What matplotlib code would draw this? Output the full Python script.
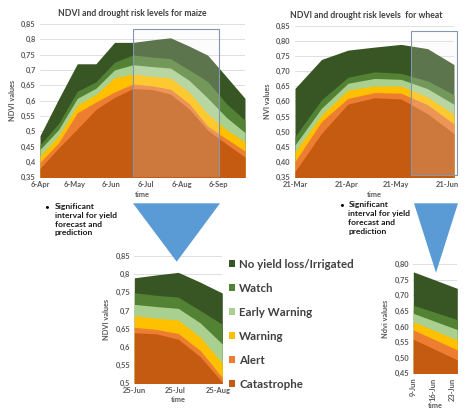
import numpy as np
import pandas as pd
import matplotlib
matplotlib.use("Agg")
import matplotlib.pyplot as plt
from matplotlib.patches import Patch, Rectangle, Polygon

plt.rcParams["font.family"] = ["Lato", "DejaVu Sans"]

# ---- data (16-day NDVI composites, upper bound of each risk level) ----
series_names = ["No yield loss/Irrigated", "Watch", "Early Warning",
                "Warning", "Alert", "Catastrophe"]
series_colors = ["#375623", "#548235", "#A9D08E", "#FFC000", "#ED7D31", "#C55A11"]

maize_dates = ["2016-04-06", "2016-04-22", "2016-05-08", "2016-05-24",
               "2016-06-09", "2016-06-25", "2016-07-11", "2016-07-27",
               "2016-08-12", "2016-08-28", "2016-09-13", "2016-09-29"]
maize_nyl = [0.485, 0.605, 0.720, 0.720, 0.790, 0.790, 0.798, 0.805, 0.778, 0.748, 0.678, 0.607]
maize_watch = [0.455, 0.525, 0.630, 0.661, 0.725, 0.749, 0.742, 0.737, 0.700, 0.662, 0.590, 0.535]
maize_early = [0.440, 0.505, 0.607, 0.640, 0.700, 0.717, 0.711, 0.706, 0.666, 0.608, 0.545, 0.495]
maize_warning = [0.420, 0.485, 0.585, 0.620, 0.675, 0.686, 0.679, 0.674, 0.627, 0.556, 0.505, 0.465]
maize_alert = [0.398, 0.462, 0.560, 0.595, 0.628, 0.654, 0.648, 0.637, 0.590, 0.516, 0.475, 0.435]
maize_cat = [0.378, 0.445, 0.507, 0.571, 0.610, 0.639, 0.636, 0.621, 0.573, 0.503, 0.458, 0.415]

wheat_dates = ["2016-03-21", "2016-04-06", "2016-04-22", "2016-05-08",
               "2016-05-24", "2016-06-09", "2016-06-25"]
wheat_nyl = [0.643, 0.739, 0.770, 0.780, 0.789, 0.775, 0.722]
wheat_watch = [0.483, 0.605, 0.680, 0.698, 0.693, 0.668, 0.622]
wheat_early = [0.455, 0.577, 0.660, 0.676, 0.673, 0.642, 0.590]
wheat_warning = [0.433, 0.555, 0.638, 0.651, 0.651, 0.615, 0.557]
wheat_alert = [0.400, 0.533, 0.610, 0.629, 0.627, 0.589, 0.525]
wheat_cat = [0.367, 0.494, 0.591, 0.612, 0.608, 0.559, 0.493]

maize_ticks = ["2016-04-06", "2016-05-06", "2016-06-06", "2016-07-06", "2016-08-06", "2016-09-06"]
wheat_ticks = ["2016-03-21", "2016-04-21", "2016-05-21", "2016-06-21"]
maize_zoom_ticks = ["2016-06-25", "2016-07-25", "2016-08-25"]
wheat_zoom_ticks = ["2016-06-09", "2016-06-16", "2016-06-23"]

maize_window = ("2016-06-25", "2016-08-28")
wheat_window = ("2016-06-09", "2016-06-25")
maize_box = ("2016-06-25", "2016-09-07")
wheat_box = ("2016-05-30", "2016-06-27")

note_text = "Significant\ninterval for yield\nforecast and\nprediction"

W, H = 474, 408
GRID = "#D9D9D9"
TXT = "#595959"


def px_axes(fig, x0, y0, x1, y1):
    # pixel box (top-left origin) -> figure axes
    return fig.add_axes([x0 / W, 1 - y1 / H, (x1 - x0) / W, (y1 - y0) / H])


def to_dt(lst):
    return pd.to_datetime(lst)


def draw_areas(ax, dates, layers, ylim, yticks, yfmt, ticks, rot=0):
    d = to_dt(dates)
    for vals, c in zip(layers, series_colors):
        ax.fill_between(d, 0, vals, color=c, lw=0)
    ax.set_xlim(d[0], d[-1])
    ax.set_ylim(*ylim)
    ax.set_yticks(yticks)
    ax.set_yticklabels([yfmt(v) for v in yticks])
    t = to_dt(ticks)
    ax.set_xticks(t)
    ax.set_xticklabels([f"{x.day}-{x:%b}" for x in t], rotation=rot)
    ax.grid(axis="y", color=GRID, lw=0.6)
    ax.set_axisbelow(True)
    for s in ax.spines.values():
        s.set_visible(False)
    ax.tick_params(length=0, labelsize=5.4, colors=TXT, pad=3)
    for lab in ax.get_xticklabels() + ax.get_yticklabels():
        lab.set_fontweight("bold")
    ax.patch.set_alpha(0)


def sub(dates, layers, window):
    d = to_dt(dates)
    m = (d >= pd.Timestamp(window[0])) & (d <= pd.Timestamp(window[1]))
    return list(np.array(dates)[m]), [list(np.array(v)[m]) for v in layers]


fmt_g = lambda v: f"{v:g}".replace(".", ",")
fmt_2 = lambda v: f"{v:.2f}".replace(".", ",")

maize_layers = [maize_nyl, maize_watch, maize_early, maize_warning, maize_alert, maize_cat]
wheat_layers = [wheat_nyl, wheat_watch, wheat_early, wheat_warning, wheat_alert, wheat_cat]

fig = plt.figure(figsize=(W / 100, H / 100), dpi=100)
lab_kw = dict(fontsize=5.3, color=TXT, fontweight="bold")
title_kw = dict(fontsize=6.2, color="#404040", fontweight="bold", pad=6, x=0.45)

# maize main
ax1 = px_axes(fig, 40, 24, 245, 177)
draw_areas(ax1, maize_dates, maize_layers, (0.35, 0.85),
           np.round(np.arange(0.35, 0.851, 0.05), 2), fmt_g, maize_ticks)
ax1.set_title("NDVI and drought risk levels for maize", **title_kw)
ax1.set_ylabel("NDVI values", labelpad=4, **lab_kw)
ax1.set_xlabel("time", labelpad=2, **lab_kw)
b = to_dt(list(maize_box))
ax1.add_patch(Rectangle((b[0], 0.35), b[1] - b[0], 0.485, facecolor="#F2F2F2",
                        alpha=0.2, edgecolor="none", zorder=5))
ax1.add_patch(Rectangle((b[0], 0.35), b[1] - b[0], 0.485, facecolor="none",
                        edgecolor="#8497B0", lw=0.8, zorder=6))

# wheat main
ax2 = px_axes(fig, 295, 26, 454, 176.7)
draw_areas(ax2, wheat_dates, wheat_layers, (0.35, 0.85),
           np.round(np.arange(0.35, 0.851, 0.05), 2), fmt_2, wheat_ticks)
ax2.set_title("NDVI and drought risk levels  for wheat", **title_kw)
ax2.set_ylabel("NVI values", labelpad=4, **lab_kw)
ax2.set_xlabel("time", labelpad=2, **lab_kw)
b = to_dt(list(wheat_box))
ax2.add_patch(Rectangle((b[0], 0.355), b[1] - b[0], 0.48, facecolor="#F2F2F2",
                        alpha=0.2, edgecolor="none", zorder=5, clip_on=False))
ax2.add_patch(Rectangle((b[0], 0.355), b[1] - b[0], 0.48, facecolor="none",
                        edgecolor="#8497B0", lw=0.8, zorder=6, clip_on=False))

# maize zoom
md, ml = sub(maize_dates, maize_layers, maize_window)
ax3 = px_axes(fig, 134.3, 256, 222.3, 383.3)
draw_areas(ax3, md, ml, (0.5, 0.85),
           np.round(np.arange(0.5, 0.851, 0.05), 2), fmt_g, maize_zoom_ticks)
ax3.set_ylabel("NDVI values", labelpad=4, **lab_kw)
ax3.set_xlabel("time", labelpad=1, **lab_kw)

# wheat zoom
wd, wl = sub(wheat_dates, wheat_layers, wheat_window)
ax4 = px_axes(fig, 413.3, 264, 457.3, 373.3)
draw_areas(ax4, wd, wl, (0.45, 0.80),
           np.round(np.arange(0.45, 0.801, 0.05), 2), fmt_2, wheat_zoom_ticks, rot=90)
ax4.set_ylabel("Ndvi values", labelpad=4, **lab_kw)
ax4.set_xlabel("time", labelpad=1, **lab_kw)

# legend
handles = [Patch(facecolor=c, edgecolor="none") for c in series_colors]
leg = fig.legend(handles, series_names, loc="upper left",
                 bbox_to_anchor=(229 / W, 1 - 259 / H), frameon=False,
                 fontsize=8.3, labelcolor="#404040", handlelength=0.55,
                 handleheight=0.55, handletextpad=0.35, labelspacing=1.12,
                 borderpad=0, borderaxespad=0)
for t in leg.get_texts():
    t.set_fontweight("bold")

# overlay: triangles and notes in pixel coordinates
ov = fig.add_axes([0, 0, 1, 1])
ov.set_xlim(0, W)
ov.set_ylim(H, 0)
ov.axis("off")
ov.add_patch(Polygon([(133, 203.3), (220, 203.3), (176.7, 261.7)], closed=True,
                     facecolor="#5B9BD5", edgecolor="none"))
ov.add_patch(Polygon([(414, 203.3), (458, 203.3), (436, 272.7)], closed=True,
                     facecolor="#5B9BD5", edgecolor="none"))
for bx, tx, ty in [(46.7, 55, 203), (341.7, 348.3, 201.5)]:
    ov.text(bx, ty, "\u2022", fontsize=6, va="top", ha="center", color="black")
    ov.text(tx, ty, note_text, fontsize=6.1, fontweight="bold", va="top",
            ha="left", color="#1a1a1a", linespacing=1.3)

fig.savefig("out.png", dpi=100)
